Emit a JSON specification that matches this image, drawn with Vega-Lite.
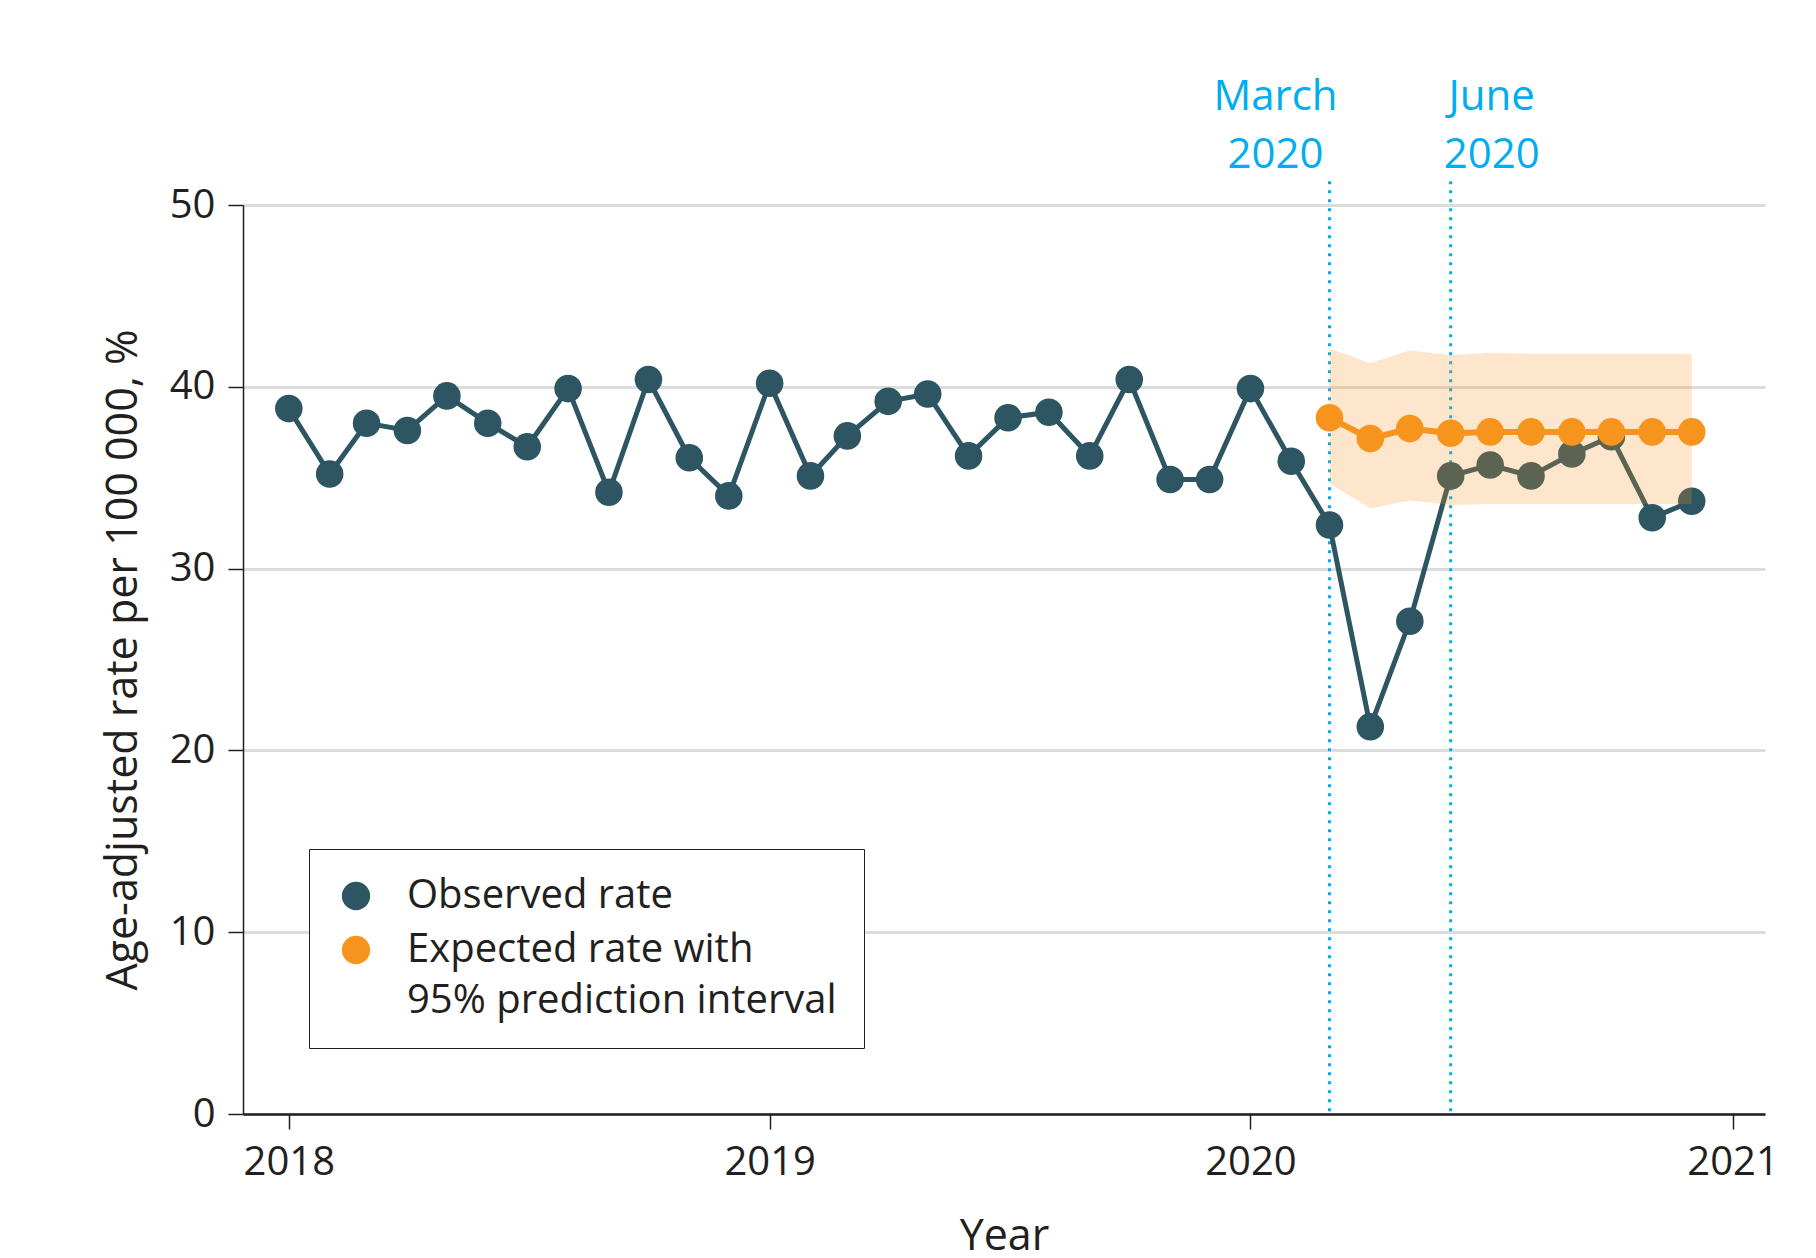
{
  "$schema": "https://vega.github.io/schema/vega-lite/v6.json",
  "width": 1522,
  "height": 909,
  "autosize": {"type": "none"},
  "padding": {"left": 243, "top": 205, "right": 51, "bottom": 144},
  "background": "white",
  "config": {
    "font": "Open Sans",
    "view": {"stroke": null},
    "axis": {
      "labelFont": "Open Sans",
      "labelFontSize": 40,
      "labelColor": "#231f20",
      "titleFont": "Open Sans",
      "titleFontSize": 43,
      "titleFontWeight": "normal",
      "titleColor": "#231f20",
      "domainColor": "#231f20",
      "tickColor": "#231f20",
      "tickSize": 15,
      "tickWidth": 1.5,
      "gridColor": "#dcdcdd",
      "gridWidth": 3
    },
    "axisX": {"domainWidth": 2.5, "labelPadding": 13, "titlePadding": 33, "grid": false},
    "axisY": {"domainWidth": 1.5, "labelPadding": 13, "titlePadding": 24, "grid": true}
  },
  "datasets": {
    "rates": [
      {"date": "2018-01-01", "observed": 38.8},
      {"date": "2018-02-01", "observed": 35.2},
      {"date": "2018-03-01", "observed": 38.0},
      {"date": "2018-04-01", "observed": 37.6},
      {"date": "2018-05-01", "observed": 39.5},
      {"date": "2018-06-01", "observed": 38.0},
      {"date": "2018-07-01", "observed": 36.7},
      {"date": "2018-08-01", "observed": 39.9},
      {"date": "2018-09-01", "observed": 34.2},
      {"date": "2018-10-01", "observed": 40.4},
      {"date": "2018-11-01", "observed": 36.1},
      {"date": "2018-12-01", "observed": 34.0},
      {"date": "2019-01-01", "observed": 40.2},
      {"date": "2019-02-01", "observed": 35.1},
      {"date": "2019-03-01", "observed": 37.3},
      {"date": "2019-04-01", "observed": 39.2},
      {"date": "2019-05-01", "observed": 39.6},
      {"date": "2019-06-01", "observed": 36.2},
      {"date": "2019-07-01", "observed": 38.3},
      {"date": "2019-08-01", "observed": 38.6},
      {"date": "2019-09-01", "observed": 36.2},
      {"date": "2019-10-01", "observed": 40.4},
      {"date": "2019-11-01", "observed": 34.9},
      {"date": "2019-12-01", "observed": 34.9},
      {"date": "2020-01-01", "observed": 39.9},
      {"date": "2020-02-01", "observed": 35.9},
      {"date": "2020-03-01", "observed": 32.4, "expected": 38.3, "lower": 34.7, "upper": 42.1},
      {"date": "2020-04-01", "observed": 21.3, "expected": 37.15, "lower": 33.3, "upper": 41.3},
      {"date": "2020-05-01", "observed": 27.1, "expected": 37.7, "lower": 33.75, "upper": 42.0},
      {"date": "2020-06-01", "observed": 35.1, "expected": 37.45, "lower": 33.5, "upper": 41.75},
      {"date": "2020-07-01", "observed": 35.7, "expected": 37.52, "lower": 33.56, "upper": 41.86},
      {"date": "2020-08-01", "observed": 35.1, "expected": 37.52, "lower": 33.56, "upper": 41.82},
      {"date": "2020-09-01", "observed": 36.3, "expected": 37.52, "lower": 33.56, "upper": 41.82},
      {"date": "2020-10-01", "observed": 37.25, "expected": 37.52, "lower": 33.56, "upper": 41.82},
      {"date": "2020-11-01", "observed": 32.8, "expected": 37.52, "lower": 33.56, "upper": 41.82},
      {"date": "2020-12-01", "observed": 33.7, "expected": 37.52, "lower": 33.56, "upper": 41.82}
    ],
    "events": [
      {"date": "2020-03-01", "label": "March\n2020"},
      {"date": "2020-06-01", "label": "June\n2020"}
    ]
  },
  "encoding": {
    "x": {
      "field": "date",
      "type": "temporal",
      "title": "Year",
      "scale": {
        "type": "utc",
        "domain": [
          {"year": 2017, "month": 11, "date": 27, "hours": 5, "utc": true},
          {"year": 2021, "month": 1, "date": 25, "hours": 15, "utc": true}
        ]
      },
      "axis": {
        "values": [
          {"year": 2018, "month": 1, "date": 1, "utc": true},
          {"year": 2019, "month": 1, "date": 1, "utc": true},
          {"year": 2020, "month": 1, "date": 1, "utc": true},
          {"year": 2021, "month": 1, "date": 1, "utc": true}
        ],
        "labelExpr": "utcFormat(datum.value, '%Y')"
      }
    }
  },
  "layer": [
    {
      "data": {"name": "events"},
      "mark": {"type": "rule", "color": "#00aeef", "strokeWidth": 3, "strokeDash": [3, 6]},
      "encoding": {
        "y": {"datum": 51.3, "type": "quantitative", "title": "Age-adjusted rate per 100 000, %"},
        "y2": {"datum": 0}
      }
    },
    {
      "data": {"name": "rates"},
      "mark": {"type": "line", "color": "#2d5562", "strokeWidth": 5},
      "encoding": {
        "y": {
          "field": "observed",
          "type": "quantitative",
          "title": "Age-adjusted rate per 100 000, %",
          "scale": {"domain": [0, 50], "nice": false},
          "axis": {"values": [0, 10, 20, 30, 40, 50]}
        }
      }
    },
    {
      "data": {"name": "rates"},
      "mark": {"type": "circle", "size": 760, "opacity": 1},
      "encoding": {
        "y": {"field": "observed", "type": "quantitative", "title": "Age-adjusted rate per 100 000, %"},
        "color": {
          "datum": "Observed rate",
          "type": "nominal",
          "scale": {
            "domain": ["Observed rate", "Expected rate with\n95% prediction interval"],
            "range": ["#2d5562", "#f7941d"]
          },
          "legend": {
            "title": null,
            "orient": "bottom-left",
            "offset": 66,
            "padding": 27,
            "strokeColor": "#231f20",
            "fillColor": "white",
            "symbolType": "circle",
            "symbolSize": 800,
            "symbolStrokeWidth": 0,
            "symbolOpacity": 1,
            "labelFont": "Open Sans",
            "labelFontSize": 40,
            "labelColor": "#231f20",
            "labelOffset": 31,
            "labelLimit": 1000,
            "rowPadding": 14,
            "labelExpr": "split(datum.label, '\\n')",
            "encode": {"labels": {"update": {"lineHeight": {"value": 51}}}}
          }
        }
      }
    },
    {
      "data": {"name": "rates"},
      "transform": [{"filter": "isValid(datum.expected)"}],
      "mark": {"type": "area", "color": "#f6921f", "opacity": 0.23},
      "encoding": {
        "y": {"field": "upper", "type": "quantitative", "title": "Age-adjusted rate per 100 000, %"},
        "y2": {"field": "lower"}
      }
    },
    {
      "data": {"name": "rates"},
      "transform": [{"filter": "isValid(datum.expected)"}],
      "mark": {"type": "line", "color": "#f7941d", "strokeWidth": 6},
      "encoding": {
        "y": {"field": "expected", "type": "quantitative", "title": "Age-adjusted rate per 100 000, %"}
      }
    },
    {
      "data": {"name": "rates"},
      "transform": [{"filter": "isValid(datum.expected)"}],
      "mark": {"type": "circle", "size": 760, "opacity": 1},
      "encoding": {
        "y": {"field": "expected", "type": "quantitative", "title": "Age-adjusted rate per 100 000, %"},
        "color": {"datum": "Expected rate with\n95% prediction interval", "type": "nominal"}
      }
    },
    {
      "data": {"name": "events"},
      "transform": [{"filter": "indexof(datum.label, 'March') >= 0"}],
      "mark": {"type": "text", "color": "#00aeef", "fontSize": 42, "font": "Open Sans", "lineBreak": "\n", "lineHeight": 58, "align": "center", "baseline": "alphabetic", "dx": -54},
      "encoding": {
        "y": {"datum": 55.2, "type": "quantitative", "title": "Age-adjusted rate per 100 000, %"},
        "text": {"field": "label", "type": "nominal"}
      }
    },
    {
      "data": {"name": "events"},
      "transform": [{"filter": "indexof(datum.label, 'June') >= 0"}],
      "mark": {"type": "text", "color": "#00aeef", "fontSize": 42, "font": "Open Sans", "lineBreak": "\n", "lineHeight": 58, "align": "center", "baseline": "alphabetic", "dx": 41},
      "encoding": {
        "y": {"datum": 55.2, "type": "quantitative", "title": "Age-adjusted rate per 100 000, %"},
        "text": {"field": "label", "type": "nominal"}
      }
    }
  ]
}
